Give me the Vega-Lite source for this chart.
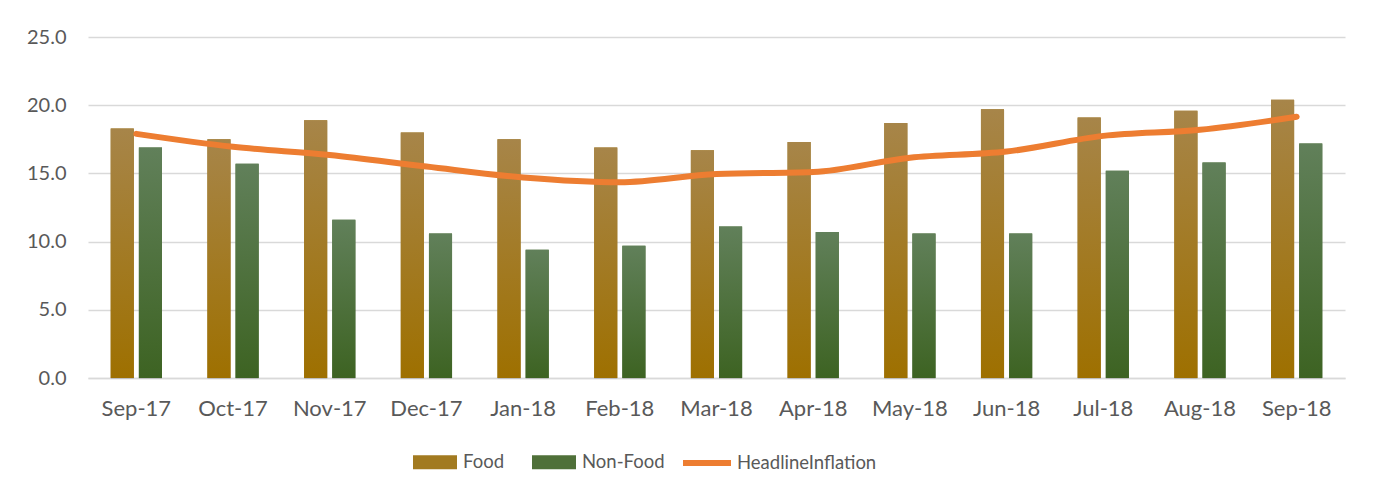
{
  "$schema": "https://vega.github.io/schema/vega-lite/v6.json",
  "width": 1257,
  "height": 341,
  "autosize": {"type": "none"},
  "padding": {"left": 88, "top": 37, "right": 35, "bottom": 118},
  "background": "white",
  "config": {
    "font": "Lato",
    "view": {"stroke": null},
    "axis": {"labelColor": "#595959", "labelFont": "Lato"},
    "legend": {"labelColor": "#595959", "labelFont": "Lato"}
  },
  "datasets": {
    "bars": [
      {"month": "Sep-17", "series": "Food", "value": 18.3},
      {"month": "Oct-17", "series": "Food", "value": 17.5},
      {"month": "Nov-17", "series": "Food", "value": 18.9},
      {"month": "Dec-17", "series": "Food", "value": 18.0},
      {"month": "Jan-18", "series": "Food", "value": 17.5},
      {"month": "Feb-18", "series": "Food", "value": 16.9},
      {"month": "Mar-18", "series": "Food", "value": 16.7},
      {"month": "Apr-18", "series": "Food", "value": 17.3},
      {"month": "May-18", "series": "Food", "value": 18.7},
      {"month": "Jun-18", "series": "Food", "value": 19.7},
      {"month": "Jul-18", "series": "Food", "value": 19.1},
      {"month": "Aug-18", "series": "Food", "value": 19.6},
      {"month": "Sep-18", "series": "Food", "value": 20.4},
      {"month": "Sep-17", "series": "Non-Food", "value": 16.9},
      {"month": "Oct-17", "series": "Non-Food", "value": 15.7},
      {"month": "Nov-17", "series": "Non-Food", "value": 11.6},
      {"month": "Dec-17", "series": "Non-Food", "value": 10.6},
      {"month": "Jan-18", "series": "Non-Food", "value": 9.4},
      {"month": "Feb-18", "series": "Non-Food", "value": 9.7},
      {"month": "Mar-18", "series": "Non-Food", "value": 11.1},
      {"month": "Apr-18", "series": "Non-Food", "value": 10.7},
      {"month": "May-18", "series": "Non-Food", "value": 10.6},
      {"month": "Jun-18", "series": "Non-Food", "value": 10.6},
      {"month": "Jul-18", "series": "Non-Food", "value": 15.2},
      {"month": "Aug-18", "series": "Non-Food", "value": 15.8},
      {"month": "Sep-18", "series": "Non-Food", "value": 17.2}
    ],
    "line": [
      {"month": "Sep-17", "series": "HeadlineInflation", "value": 17.9},
      {"month": "Oct-17", "series": "HeadlineInflation", "value": 16.95},
      {"month": "Nov-17", "series": "HeadlineInflation", "value": 16.35},
      {"month": "Dec-17", "series": "HeadlineInflation", "value": 15.5},
      {"month": "Jan-18", "series": "HeadlineInflation", "value": 14.7},
      {"month": "Feb-18", "series": "HeadlineInflation", "value": 14.35},
      {"month": "Mar-18", "series": "HeadlineInflation", "value": 14.95},
      {"month": "Apr-18", "series": "HeadlineInflation", "value": 15.1},
      {"month": "May-18", "series": "HeadlineInflation", "value": 16.15},
      {"month": "Jun-18", "series": "HeadlineInflation", "value": 16.6},
      {"month": "Jul-18", "series": "HeadlineInflation", "value": 17.75},
      {"month": "Aug-18", "series": "HeadlineInflation", "value": 18.2},
      {"month": "Sep-18", "series": "HeadlineInflation", "value": 19.15}
    ]
  },
  "encoding": {
    "x": {
      "field": "month",
      "type": "nominal",
      "sort": null,
      "scale": {"paddingInner": 0.47, "paddingOuter": 0.235},
      "axis": {
        "title": null,
        "labelAngle": 0,
        "labelFontSize": 22,
        "labelPadding": 20,
        "ticks": false,
        "domainColor": "#d9d9d9",
        "domainWidth": 1.5,
        "grid": false
      }
    },
    "y": {
      "field": "value",
      "type": "quantitative",
      "scale": {"domain": [0, 25], "nice": false},
      "axis": {
        "title": null,
        "values": [0, 5, 10, 15, 20, 25],
        "format": ".1f",
        "labelFontSize": 20,
        "labelPadding": 22,
        "ticks": false,
        "domain": false,
        "gridColor": "#d9d9d9",
        "gridWidth": 1.5
      }
    }
  },
  "layer": [
    {
      "data": {"name": "bars"},
      "mark": {"type": "bar", "fill": "#000000", "opacity": 0.12, "xOffset": 3, "yOffset": 1},
      "encoding": {
        "xOffset": {"field": "series", "type": "nominal"}
      }
    },
    {
      "data": {"name": "bars"},
      "mark": {"type": "bar"},
      "encoding": {
        "xOffset": {
          "field": "series",
          "type": "nominal",
          "scale": {"paddingInner": 0.18, "paddingOuter": 0}
        },
        "fill": {
          "field": "series",
          "type": "nominal",
          "scale": {"domain": ["Food", "Non-Food"], "range": ["#A27A20", "#4F7039"]},
          "legend": {
            "title": null,
            "orient": "none",
            "direction": "horizontal",
            "legendX": 325,
            "legendY": 403,
            "symbolType": "M-1,-0.32H1V0.32H-1Z",
            "symbolSize": 1936,
            "symbolStrokeWidth": 0,
            "labelFontSize": 18.5,
            "labelOffset": 6,
            "columnPadding": 28
          }
        }
      }
    },
    {
      "data": {"name": "bars"},
      "transform": [{"filter": "datum.series === 'Food'"}],
      "mark": {
        "type": "bar",
        "fill": {"gradient": "linear", "x1": 0, "y1": 0, "x2": 0, "y2": 1, "stops": [{"offset": 0, "color": "#A78549"}, {"offset": 1, "color": "#9E7000"}]}
      },
      "encoding": {
        "xOffset": {"field": "series", "type": "nominal"}
      }
    },
    {
      "data": {"name": "bars"},
      "transform": [{"filter": "datum.series === 'Non-Food'"}],
      "mark": {
        "type": "bar",
        "fill": {"gradient": "linear", "x1": 0, "y1": 0, "x2": 0, "y2": 1, "stops": [{"offset": 0, "color": "#61805A"}, {"offset": 1, "color": "#3D6322"}]}
      },
      "encoding": {
        "xOffset": {"field": "series", "type": "nominal"}
      }
    },
    {
      "data": {"name": "line"},
      "mark": {"type": "line", "interpolate": "monotone", "strokeWidth": 6, "strokeCap": "round", "strokeJoin": "round"},
      "encoding": {
        "stroke": {
          "field": "series",
          "type": "nominal",
          "scale": {"domain": ["HeadlineInflation"], "range": ["#ED7D31"]},
          "legend": {
            "title": null,
            "orient": "none",
            "direction": "horizontal",
            "legendX": 592,
            "legendY": 399,
            "symbolType": "stroke",
            "symbolSize": 2304,
            "symbolStrokeWidth": 6,
            "labelFontSize": 18.5,
            "labelOffset": 3
          }
        }
      }
    }
  ]
}
